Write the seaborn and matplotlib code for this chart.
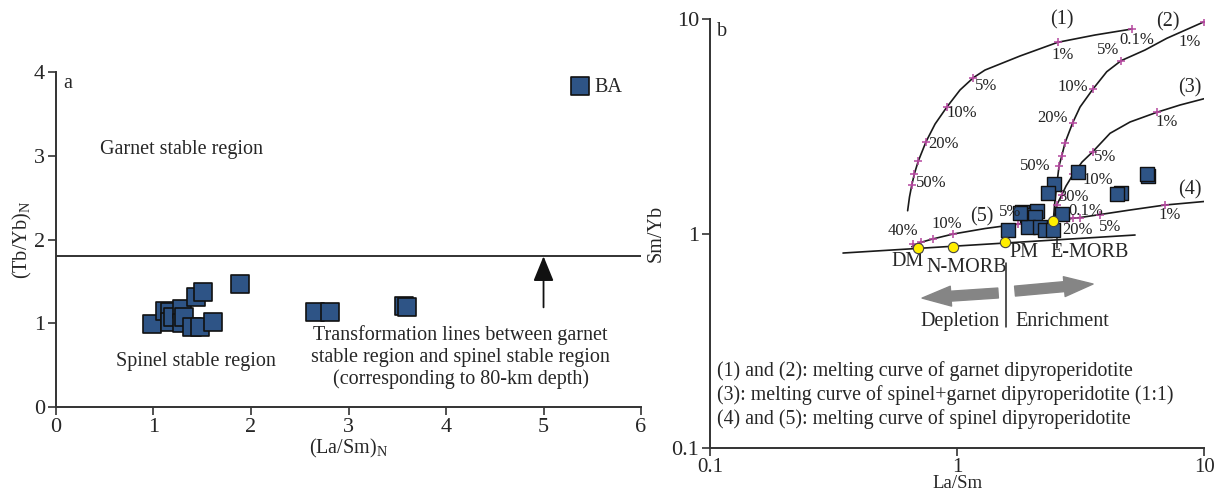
import matplotlib
matplotlib.use("Agg")
import matplotlib.pyplot as plt
import seaborn as sns
import pandas as pd

# ---------------- data ----------------
# (a) (La/Sm)N vs (Tb/Yb)N for the BA samples
ba_lasm_n = [0.98, 1.12, 1.17, 1.17, 1.20, 1.29, 1.29, 1.31, 1.44, 1.51, 1.89,
             1.39, 1.48, 1.61, 2.66, 2.81, 3.57, 3.60]
ba_tbyb_n = [0.99, 1.15, 1.13, 1.02, 1.08, 1.17, 1.00, 1.07, 1.31, 1.37, 1.47,
             0.96, 0.96, 1.02, 1.13, 1.13, 1.21, 1.19]
garnet_spinel_boundary = 1.8          # 80-km depth transition
arrow_x, arrow_y0 = 5.0, 1.19

# (b) La/Sm vs Sm/Yb for the BA samples
ba_lasm = [3.075, 2.477, 2.342, 5.95, 5.86, 4.61, 4.43, 2.649, 1.828, 1.915,
           2.102, 2.069, 1.601, 1.944, 2.168, 2.272, 2.454, 1.799]
ba_smyb = [1.929, 1.697, 1.545, 1.860, 1.894, 1.550, 1.523, 1.230, 1.264, 1.220,
           1.277, 1.198, 1.038, 1.076, 1.076, 1.033, 1.033, 1.242]

# melting curves (1)-(5)
c1_x = [0.631, 0.642, 0.656, 0.672, 0.697, 0.749, 0.815, 0.908, 1.028, 1.164, 1.298,
        1.799, 2.557, 3.621, 5.097]
c1_y = [1.277, 1.480, 1.683, 1.900, 2.178, 2.679, 3.240, 3.876, 4.667, 5.325, 5.783,
        6.724, 7.788, 8.424, 8.981]
c1_tick_x = [0.656, 0.672, 0.697, 0.749, 0.908, 1.164, 2.557, 5.097]
c1_tick_y = [1.683, 1.900, 2.178, 2.679, 3.876, 5.325, 7.788, 8.981]

c2_x = [2.454, 2.481, 2.533, 2.588, 2.654, 2.737, 2.940, 3.148, 3.544, 4.037, 4.613,
        5.768, 7.063, 9.95]
c2_y = [1.144, 1.358, 1.683, 2.064, 2.298, 2.650, 3.286, 3.888, 4.703, 5.679, 6.392,
        7.170, 8.128, 9.683]
c2_tick_x = [2.588, 2.654, 2.737, 2.940, 3.544, 4.613, 9.95]
c2_tick_y = [2.064, 2.298, 2.650, 3.286, 4.703, 6.392, 9.683]

c3_x = [2.454, 2.533, 2.654, 2.762, 2.957, 3.207, 3.544, 4.163, 5.017, 6.435, 7.994, 10.0]
c3_y = [1.144, 1.358, 1.512, 1.665, 1.894, 2.154, 2.406, 2.932, 3.311, 3.673, 3.973, 4.250]
c3_tick_x = [2.533, 2.654, 2.957, 3.544, 6.435]
c3_tick_y = [1.358, 1.512, 1.894, 2.406, 3.673]

c45_x = [0.656, 0.715, 0.797, 0.966, 1.298, 1.771, 2.380, 2.781, 3.148, 3.793, 5.017,
         6.952, 10.0]
c45_y = [0.868, 0.910, 0.943, 0.995, 1.055, 1.107, 1.150, 1.169, 1.187, 1.226, 1.287,
         1.358, 1.410]
c45_tick_x = [0.666, 0.715, 0.797, 0.966, 1.771, 2.781, 2.957, 3.148, 3.793, 6.952]
c45_tick_y = [0.891, 0.910, 0.943, 0.995, 1.107, 1.169, 1.175, 1.187, 1.226, 1.358]

# mantle array and reservoirs
array_x = [0.3455, 5.256]
array_y = [0.811, 0.984]
res_names = ["DM", "N-MORB", "PM", "E-MORB"]
res_x = [0.697, 0.961, 1.564, 2.454]
res_y = [0.859, 0.862, 0.910, 1.144]

# ---------------- style ----------------
sns.set_theme(style="ticks")
plt.rcParams["font.family"] = ["Liberation Serif", "DejaVu Serif"]
plt.rcParams["mathtext.fontset"] = "custom"
plt.rcParams["mathtext.rm"] = "Liberation Serif"
plt.rcParams["mathtext.it"] = "Liberation Serif:italic"

SQ_FACE = "#2e5486"
SQ_EDGE = "#111111"
TICK_PINK = "#b4479e"
SPINE = "#333333"
TXT = 14.5
PCT = 12

fig = plt.figure(figsize=(12.25, 4.94), dpi=100)
ax_a = fig.add_axes([0.0457, 0.1761, 0.4776, 0.678])
ax_b = fig.add_axes([0.5796, 0.0931, 0.4033, 0.8684])

for ax in (ax_a, ax_b):
    for s in ("top", "right"):
        ax.spines[s].set_visible(False)
    for s in ("left", "bottom"):
        ax.spines[s].set_color(SPINE)
        ax.spines[s].set_linewidth(1.4)
    ax.tick_params(axis="both", direction="out", length=6, width=1.2,
                   color=SPINE, labelsize=16, pad=2)
    ax.set_facecolor("white")
ax_b.tick_params(axis="x", labelsize=15, pad=1)

# ---------------- panel a ----------------
df_a = pd.DataFrame({"x": ba_lasm_n, "y": ba_tbyb_n})
sns.scatterplot(data=df_a, x="x", y="y", ax=ax_a, marker="s", s=150,
                color=SQ_FACE, edgecolor=SQ_EDGE, linewidth=1.2, label="BA", zorder=3)
ax_a.axhline(garnet_spinel_boundary, color="#222222", lw=1.3, zorder=2)
ax_a.annotate("", xy=(arrow_x, garnet_spinel_boundary), xytext=(arrow_x, arrow_y0),
              arrowprops=dict(arrowstyle="-|>,head_length=1.1,head_width=0.45",
                              color="#111111", lw=1.3, shrinkA=0, shrinkB=0,
                              mutation_scale=14))
ax_a.set_xlim(0, 6)
ax_a.set_ylim(0, 4)
ax_a.set_xticks(range(0, 7))
ax_a.set_yticks(range(0, 5))
ax_a.set_xlabel(r"(La/Sm)$_\mathregular{N}$", fontsize=TXT, labelpad=0)
ax_a.set_ylabel(r"(Tb/Yb)$_\mathregular{N}$", fontsize=TXT, labelpad=0)
ax_a.text(0.07, 3.86, "a", fontsize=TXT, va="center", ha="left")
ax_a.text(0.45, 3.08, "Garnet stable region", fontsize=TXT, va="center", ha="left")
ax_a.text(1.44, 0.54, "Spinel stable region", fontsize=TXT, va="center", ha="center")
ax_a.text(4.15, 0.595,
          "Transformation lines between garnet\n"
          "stable region and spinel stable region\n"
          "(corresponding to 80-km depth)",
          fontsize=TXT, va="center", ha="center", linespacing=1.18)
leg = ax_a.legend(loc="center left", bbox_to_anchor=(0.875, 0.955), frameon=False,
                  fontsize=TXT, handletextpad=0.1, borderpad=0, borderaxespad=0,
                  handlelength=1.2)

# ---------------- panel b ----------------
ax_b.set_xscale("log")
ax_b.set_yscale("log")
ax_b.set_xlim(0.1, 10)
ax_b.set_ylim(0.1, 10)
ax_b.set_xticks([0.1, 1, 10])
ax_b.set_xticklabels(["0.1", "1", "10"])
ax_b.set_yticks([0.1, 1, 10])
ax_b.set_yticklabels(["0.1", "1", "10"])
ax_b.minorticks_off()
ax_b.set_xlabel("La/Sm", fontsize=13.5, labelpad=-1)
ax_b.set_ylabel("Sm/Yb", fontsize=TXT, labelpad=4)

for cx, cy in ((c1_x, c1_y), (c2_x, c2_y), (c3_x, c3_y), (c45_x, c45_y), (array_x, array_y)):
    sns.lineplot(x=cx, y=cy, sort=False, estimator=None, color="#1a1a1a", lw=1.2,
                 ax=ax_b, zorder=2)

tx = c1_tick_x + c2_tick_x + c3_tick_x + c45_tick_x
ty = c1_tick_y + c2_tick_y + c3_tick_y + c45_tick_y
ax_b.plot(tx, ty, ls="none", marker="+", ms=6, mew=1.1, color=TICK_PINK, zorder=3)

df_b = pd.DataFrame({"x": ba_lasm, "y": ba_smyb})
sns.scatterplot(data=df_b, x="x", y="y", ax=ax_b, marker="s", s=88,
                color=SQ_FACE, edgecolor=SQ_EDGE, linewidth=1.0, zorder=4, legend=False)

sns.scatterplot(x=res_x, y=res_y, ax=ax_b, marker="o", s=55, color="#ffee00",
                edgecolor="#444444", linewidth=0.8, zorder=5, legend=False)

# E-MORB leader and depletion/enrichment divider
ax_b.plot([2.533, 2.533], [1.135, 0.853], color="#222222", lw=1.1, zorder=2)
ax_b.plot([1.579, 1.579], [0.729, 0.3665], color="#222222", lw=1.1, zorder=2)

arrow_kw = dict(arrowstyle="simple,head_length=1.6,head_width=1.1,tail_width=0.55",
                color="#858585", shrinkA=0, shrinkB=0, mutation_scale=13)
ax_b.annotate("", xy=(0.722, 0.500), xytext=(1.466, 0.528), arrowprops=arrow_kw)
ax_b.annotate("", xy=(3.553, 0.5815), xytext=(1.717, 0.539), arrowprops=arrow_kw)

T = ax_b.transAxes
ax_b.text(0.587, 0.296, "Depletion", transform=T, fontsize=TXT, ha="right", va="center")
ax_b.text(0.619, 0.296, "Enrichment", transform=T, fontsize=TXT, ha="left", va="center")

ax_b.text(0.024, 0.970, "b", transform=T, fontsize=TXT, ha="center", va="center")
for name, fx, fy in (("(1)", 0.7126, 0.9977), ("(2)", 0.927, 0.993),
                     ("(3)", 0.9717, 0.8392), ("(4)", 0.9717, 0.6014),
                     ("(5)", 0.550, 0.5385)):
    ax_b.text(fx, fy, name, transform=T, fontsize=TXT, ha="center", va="center")

for name, fx, fy in (("DM", 0.4008, 0.4336), ("N-MORB", 0.5202, 0.4219),
                     ("PM", 0.6356, 0.4569), ("E-MORB", 0.7692, 0.4569)):
    ax_b.text(fx, fy, name, transform=T, fontsize=TXT, ha="center", va="center")

pct_labels = [
    ("40%", 0.3907, 0.5058), ("10%", 0.4798, 0.5221), ("5%", 0.6073, 0.5501),
    ("0.1%", 0.7611, 0.5524), ("20%", 0.7429, 0.5082), ("5%", 0.8097, 0.5152),
    ("1%", 0.9312, 0.5431), ("30%", 0.7348, 0.5851), ("10%", 0.7854, 0.6247),
    ("5%", 0.7996, 0.6783), ("1%", 0.9251, 0.7599), ("50%", 0.6579, 0.6573),
    ("20%", 0.6923, 0.7692), ("10%", 0.7348, 0.8415), ("5%", 0.8057, 0.9277),
    ("1%", 0.9717, 0.9464), ("0.1%", 0.8644, 0.9510), ("1%", 0.7146, 0.9161),
    ("5%", 0.5587, 0.8438), ("10%", 0.5101, 0.7809), ("20%", 0.4717, 0.7086),
    ("50%", 0.4474, 0.6177),
]
for lab, fx, fy in pct_labels:
    ax_b.text(fx, fy, lab, transform=T, fontsize=PCT, ha="center", va="center",
              color="#222222", zorder=6)

notes = [
    "(1) and (2): melting curve of garnet dipyroperidotite",
    "(3): melting curve of spinel+garnet dipyroperidotite (1:1)",
    "(4) and (5): melting curve of spinel dipyroperidotite",
]
for i, line in enumerate(notes):
    ax_b.text(0.014, 0.1795 - i * 0.056, line, transform=T, fontsize=14.3,
              ha="left", va="center")

fig.savefig("out.png", dpi=100, facecolor="white")
